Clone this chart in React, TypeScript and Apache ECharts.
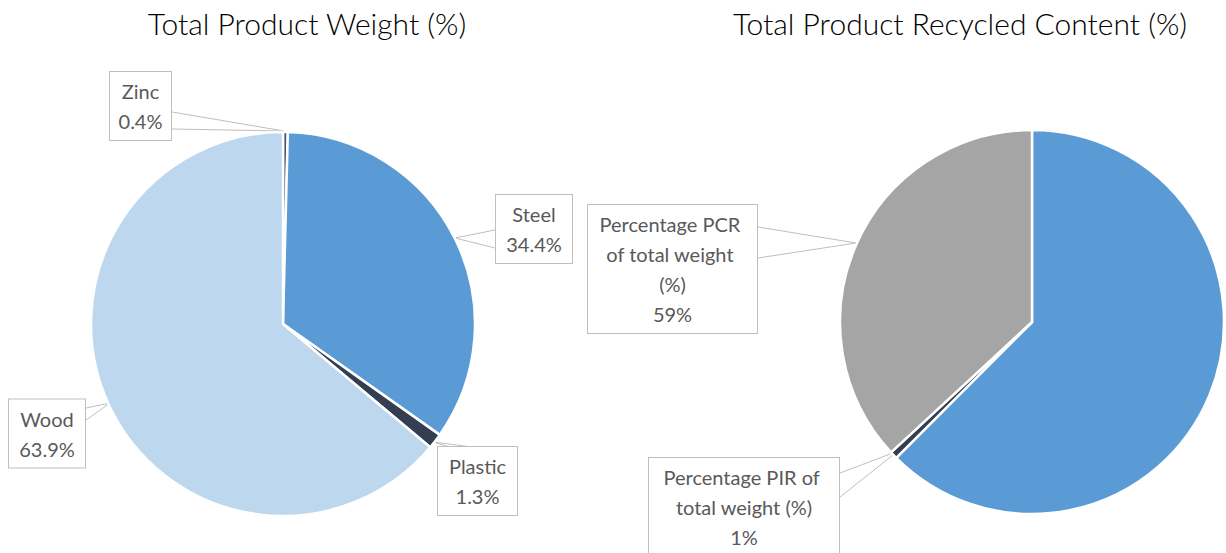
import React, { useEffect, useRef } from "react";
import * as echarts from "echarts";

// ---- data ----
const weightCategories = ["Zinc", "Steel", "Plastic", "Wood"];
const weightValues = [0.4, 34.4, 1.3, 63.9];

const recycledCategories = [
  "Total product weight (%)",
  "Percentage PIR of total weight (%)",
  "Percentage PCR of total weight (%)",
];
const recycledValues = [100, 1, 59];

const chartTitles = ["Total Product Weight (%)", "Total Product Recycled Content (%)"];

// ---- styles ----
const weightColors = ["#44546A", "#5B9BD5", "#333F50", "#BDD7EE"];
const recycledColors = ["#5B9BD5", "#333F50", "#A5A5A5"];
const recycledLabelShown = [false, true, true];

// label callout boxes: centre, box width, callout wedge points
type Box = { x: number; y: number; w: number; line: number[][] } | null;
const weightBoxes: Box[] = [
  { x: 140.5, y: 106, w: 63, line: [[172, 112], [284, 131], [172, 129]] },
  { x: 534, y: 229, w: 78, line: [[495, 230], [455, 238], [495, 248]] },
  { x: 477.5, y: 481, w: 81, line: [[450, 447], [433, 442], [472, 447]] },
  { x: 47, y: 433.5, w: 78, line: [[86, 408], [110, 403], [86, 420]] },
];
const recycledBoxes: Box[] = [
  null,
  { x: 744, y: 507, w: 192, line: [[840, 473], [898, 451], [840, 497]] },
  { x: 672.5, y: 269, w: 171, line: [[758, 227], [856, 243], [758, 258]] },
];

const FONT = "Lato";
const PAD_X = 6;

const labelBase = {
  show: true,
  position: "outside",
  formatter: (p: any) => `${p.name}\n${p.value}%`,
  color: "#595959",
  fontFamily: FONT,
  fontSize: 20,
  lineHeight: 30,
  backgroundColor: "#ffffff",
  borderColor: "#BFBFBF",
  borderWidth: 1,
  padding: [4, PAD_X],
  align: "center",
  overflow: "break",
};

function makeLayout(boxes: Box[]) {
  return (params: any) => {
    const b = boxes[params.dataIndex];
    if (!b) return {};
    return {
      x: b.x,
      y: b.y,
      align: "center",
      verticalAlign: "middle",
      labelLinePoints: b.line,
    };
  };
}

export default function App() {
  const ref = useRef<HTMLDivElement>(null);

  useEffect(() => {
    document.body.style.margin = "0";
    if (!ref.current) return;
    const chart = echarts.init(ref.current, null, { renderer: "svg" });

    const weightData = weightCategories.map((name, i) => ({
      name,
      value: weightValues[i],
      itemStyle: { color: weightColors[i] },
      label: { width: weightBoxes[i]!.w - 2 * PAD_X - 2 },
    }));
    const recycledData = recycledCategories.map((name, i) => {
      const b = recycledBoxes[i];
      return {
        name,
        value: recycledValues[i],
        itemStyle: { color: recycledColors[i] },
        label: recycledLabelShown[i] && b
          ? { show: true, width: b.w - 2 * PAD_X - 2 }
          : { show: false },
        labelLine: { show: recycledLabelShown[i] },
      };
    });

    const titleStyle = {
      fontFamily: FONT,
      fontWeight: 300,
      fontSize: 30,
      color: "#000000",
    };

    chart.setOption({
      animation: false,
      backgroundColor: "#ffffff",
      title: [
        { text: chartTitles[0], left: 307, top: 8, padding: 0, textAlign: "center", textStyle: titleStyle },
        { text: chartTitles[1], left: 960, top: 8, padding: 0, textAlign: "center", textStyle: titleStyle },
      ],
      series: [
        {
          type: "pie",
          center: [283, 324],
          radius: 192,
          startAngle: 90,
          clockwise: true,
          avoidLabelOverlap: false,
          itemStyle: { borderColor: "#ffffff", borderWidth: 2.5 },
          label: labelBase,
          labelLine: { show: true, lineStyle: { color: "#BFBFBF", width: 1 } },
          labelLayout: makeLayout(weightBoxes),
          emphasis: { disabled: true },
          data: weightData,
        },
        {
          type: "pie",
          center: [1032, 322],
          radius: 192,
          startAngle: 90,
          clockwise: true,
          avoidLabelOverlap: false,
          itemStyle: { borderColor: "#ffffff", borderWidth: 2.5 },
          label: labelBase,
          labelLine: { show: true, lineStyle: { color: "#BFBFBF", width: 1 } },
          labelLayout: makeLayout(recycledBoxes),
          emphasis: { disabled: true },
          data: recycledData,
        },
      ],
    });

    return () => chart.dispose();
  }, []);

  return <div ref={ref} style={{ width: 1226, height: 553 }} />;
}
